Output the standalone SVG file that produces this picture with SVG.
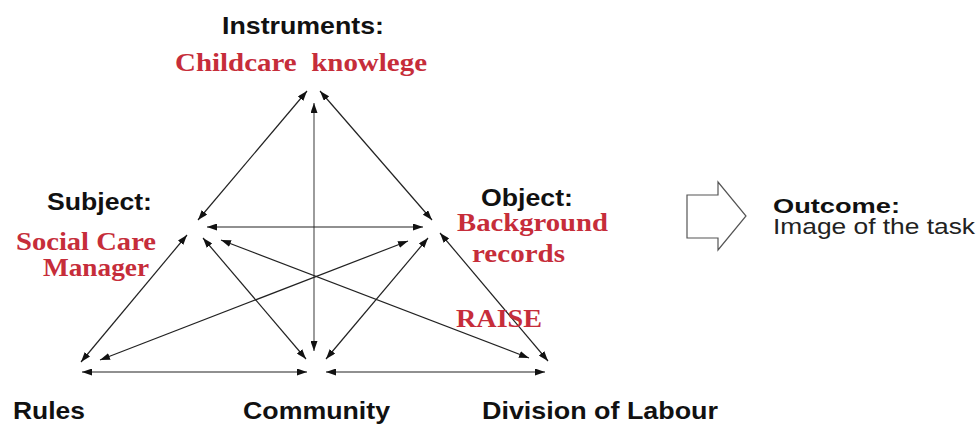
<svg xmlns="http://www.w3.org/2000/svg" width="980" height="424" viewBox="0 0 980 424">
<style>
.hd{font-family:"Liberation Sans",Arial,sans-serif;font-weight:bold;font-size:24px;fill:#111}
.rd{font-family:"Liberation Serif","Times New Roman",serif;font-weight:bold;font-size:26px;fill:#c62d3a}
.rg{font-family:"Liberation Sans",Arial,sans-serif;font-size:22px;fill:#222}
.ln{stroke:#222;stroke-width:1.2;fill:none;marker-start:url(#ah);marker-end:url(#ah)}
.lv{stroke:#666;stroke-width:1.3}
</style>
<defs>
<marker id="ah" viewBox="0 0 10 10" refX="10" refY="5" markerWidth="10" markerHeight="7" preserveAspectRatio="none" orient="auto-start-reverse" markerUnits="userSpaceOnUse">
<path d="M0,0 L10,5 L0,10 z" fill="#111"/>
</marker>
</defs>
<rect width="980" height="424" fill="#fff"/>
<g id="connectors">
<line class="ln" x1="307" y1="91" x2="198" y2="220"/>
<line class="ln" x1="320" y1="91" x2="432" y2="220"/>
<line class="ln lv" x1="314" y1="103" x2="314" y2="351"/>
<line class="ln" x1="207" y1="227" x2="423" y2="227"/>
<line class="ln" x1="187" y1="235" x2="81" y2="362"/>
<line class="ln" x1="203" y1="238" x2="306" y2="359"/>
<line class="ln" x1="221" y1="240" x2="529" y2="358"/>
<line class="ln" x1="408" y1="241" x2="100" y2="360"/>
<line class="ln" x1="428" y1="238" x2="326" y2="359"/>
<line class="ln" x1="440" y1="233" x2="548" y2="361"/>
<line class="ln" x1="82" y1="372" x2="307" y2="372"/>
<line class="ln" x1="326" y1="372" x2="545" y2="372"/>
<polygon points="687,195 718,195 718,182 746,216 718,250 718,238 687,238" fill="#fff" stroke="#555" stroke-width="1.2"/>
</g>
<g id="instruments">
<text class="hd" x="222" y="34" textLength="162" lengthAdjust="spacingAndGlyphs">Instruments:</text>
<text class="rd" x="175" y="71" textLength="252" lengthAdjust="spacingAndGlyphs" xml:space="preserve">Childcare  knowlege</text>
</g>
<g id="subject">
<text class="hd" x="47" y="210" textLength="105" lengthAdjust="spacingAndGlyphs">Subject:</text>
<text class="rd" x="16" y="250" textLength="140" lengthAdjust="spacingAndGlyphs">Social Care</text>
<text class="rd" x="43" y="276" textLength="106" lengthAdjust="spacingAndGlyphs">Manager</text>
</g>
<g id="object">
<text class="hd" x="481" y="206" textLength="92" lengthAdjust="spacingAndGlyphs">Object:</text>
<text class="rd" x="457" y="231" textLength="151" lengthAdjust="spacingAndGlyphs">Background</text>
<text class="rd" x="472" y="262" textLength="93" lengthAdjust="spacingAndGlyphs">records</text>
<text class="rd" x="456" y="327" textLength="86" lengthAdjust="spacingAndGlyphs">RAISE</text>
</g>
<g id="outcome">
<text class="hd" style="font-size:21px" x="773" y="213" textLength="127" lengthAdjust="spacingAndGlyphs">Outcome:</text>
<text class="rg" x="773" y="234" textLength="202" lengthAdjust="spacingAndGlyphs">Image of the task</text>
</g>
<g id="rules">
<text class="hd" x="13" y="419" textLength="72" lengthAdjust="spacingAndGlyphs">Rules</text>
</g>
<g id="community">
<text class="hd" x="243" y="419" textLength="147" lengthAdjust="spacingAndGlyphs">Community</text>
</g>
<g id="division">
<text class="hd" x="482" y="419" textLength="236" lengthAdjust="spacingAndGlyphs">Division of Labour</text>
</g>
</svg>
